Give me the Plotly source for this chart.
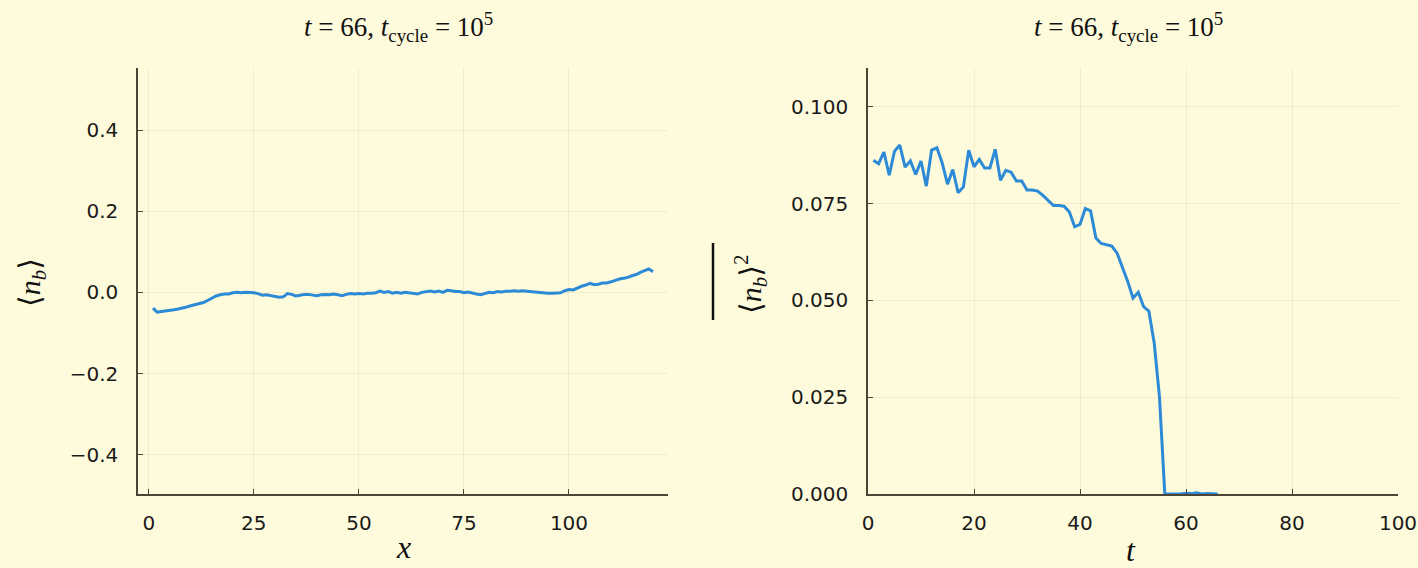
import plotly.graph_objects as go

# ---------------- data ----------------
x_left = list(range(1, 121))
nb_left = [
    -0.039, -0.049, -0.047, -0.046, -0.045, -0.043, -0.041, -0.039, -0.036, -0.033,
    -0.030, -0.028, -0.025, -0.020, -0.014, -0.009, -0.006, -0.004, -0.004, -0.001,
    0.000, -0.001, 0.000, 0.000, -0.001, -0.003, -0.007, -0.006, -0.008, -0.010,
    -0.012, -0.011, -0.003, -0.005, -0.009, -0.007, -0.005, -0.005, -0.006, -0.008,
    -0.006, -0.005, -0.006, -0.004, -0.006, -0.008, -0.005, -0.003, -0.004, -0.003,
    -0.004, -0.002, -0.002, -0.001, 0.003, 0.000, 0.002, -0.002, 0.000, -0.002,
    0.000, -0.001, -0.002, -0.004, 0.000, 0.002, 0.003, 0.001, 0.003, 0.000,
    0.005, 0.004, 0.002, 0.002, -0.001, 0.001, -0.002, -0.004, -0.006, -0.003,
    0.000, -0.001, 0.002, 0.001, 0.003, 0.003, 0.004, 0.003, 0.004, 0.003,
    0.002, 0.001, -0.001, -0.001, -0.002, -0.002, -0.002, -0.001, 0.004, 0.007,
    0.006, 0.011, 0.015, 0.018, 0.022, 0.019, 0.020, 0.023, 0.023, 0.026,
    0.030, 0.033, 0.035, 0.037, 0.041, 0.044, 0.049, 0.053, 0.058, 0.051,
]

t_right = list(range(1, 67))
nb2_right = [
    0.0862, 0.0853, 0.0883, 0.0823, 0.0885, 0.0901, 0.0844, 0.0860, 0.0825, 0.0860,
    0.0795, 0.0888, 0.0894, 0.0855, 0.0800, 0.0838, 0.0778, 0.0793, 0.0888, 0.0845,
    0.0864, 0.0842, 0.0842, 0.0890, 0.0810, 0.0836, 0.0831, 0.0808, 0.0808, 0.0785,
    0.0785, 0.0782, 0.0771, 0.0759, 0.0745, 0.0745, 0.0743, 0.0728, 0.0690, 0.0696,
    0.0737, 0.0731, 0.0661, 0.0647, 0.0644, 0.0640, 0.0622, 0.0588, 0.0549, 0.0506,
    0.0521, 0.0484, 0.0472, 0.0390, 0.0250, 0.0000, 0.0000, 0.0001, 0.0000, 0.0002,
    0.0001, 0.0003, 0.0000, 0.0001, 0.0000, 0.0000,
]

left_xticks = [0, 25, 50, 75, 100]
left_yticks = [-0.4, -0.2, 0.0, 0.2, 0.4]
right_xticks = [0, 20, 40, 60, 80, 100]
right_yticks = [0.0, 0.025, 0.05, 0.075, 0.1]

title_text = "<i>t</i> = 66, <i>t</i><sub>cycle</sub> = 10<sup>5</sup>"

# ---------------- styling ----------------
W, H = 1418, 568
BG = "#FEFBDC"
LINE = "#2D8AD6"
AXC = "#4a4535"
GRID = "rgba(225,190,140,0.25)"
TICKFONT = dict(family="DejaVu Sans", size=20, color="#1a1a1a")
SERIF = "Liberation Serif, DejaVu Serif, serif"

def px_x(p):
    return p / W

def px_y(p):
    return 1 - p / H

fig = go.Figure()
fig.add_trace(go.Scatter(x=x_left, y=nb_left, mode="lines",
                         line=dict(color=LINE, width=3), xaxis="x", yaxis="y",
                         showlegend=False))
fig.add_trace(go.Scatter(x=t_right, y=nb2_right, mode="lines",
                         line=dict(color=LINE, width=3), xaxis="x2", yaxis="y2",
                         showlegend=False))

axis_common = dict(
    showline=True, linecolor=AXC, linewidth=1.5, mirror=False,
    ticks="inside", ticklen=5, tickcolor=AXC, tickwidth=1,
    showgrid=True, gridcolor=GRID, gridwidth=1, zeroline=False,
    tickfont=TICKFONT, automargin=False,
)

ydom = [px_y(494), px_y(68)]
fig.update_layout(
    template="none",
    width=W, height=H, autosize=False,
    margin=dict(l=0, r=0, t=0, b=0, pad=0),
    paper_bgcolor=BG, plot_bgcolor=BG,
    xaxis=dict(domain=[px_x(138), px_x(668)], range=[-2.57, 123.57],
               tickvals=left_xticks, ticklabelstandoff=10, anchor="y", **axis_common),
    yaxis=dict(domain=ydom, range=[-0.497, 0.553], tickvals=left_yticks,
               tickformat=".1f", ticklabelstandoff=14, anchor="x", **axis_common),
    xaxis2=dict(domain=[px_x(868), px_x(1398)], range=[0, 100],
                tickvals=right_xticks, ticklabelstandoff=10, anchor="y2", **axis_common),
    yaxis2=dict(domain=ydom, range=[0, 0.11], tickvals=right_yticks,
                tickformat=".3f", ticklabelstandoff=14, anchor="x2", **axis_common),
)

ann = []
# titles
for cx in (398, 1128):
    ann.append(dict(x=px_x(cx), y=px_y(27), xref="paper", yref="paper",
                    text=title_text, showarrow=False,
                    font=dict(family=SERIF, size=27, color="#111111"),
                    xanchor="center", yanchor="middle"))
# x-axis titles
ann.append(dict(x=px_x(403), y=px_y(547), xref="paper", yref="paper",
                text="<i>x</i>", showarrow=False,
                font=dict(family=SERIF, size=32, color="#111111"),
                xanchor="center", yanchor="middle"))
ann.append(dict(x=px_x(1131), y=px_y(550), xref="paper", yref="paper",
                text="<i>t</i>", showarrow=False,
                font=dict(family=SERIF, size=32, color="#111111"),
                xanchor="center", yanchor="middle"))
# y-axis titles
ann.append(dict(x=px_x(32), y=px_y(283), xref="paper", yref="paper",
                text="⟨<i>n</i><sub><i>b</i></sub>⟩", showarrow=False, textangle=-90,
                font=dict(family=SERIF, size=30, color="#111111"),
                xanchor="center", yanchor="middle"))
ann.append(dict(x=px_x(750), y=px_y(284), xref="paper", yref="paper",
                text="⟨<i>n</i><sub><i>b</i></sub>⟩<sup>2</sup>", showarrow=False, textangle=-90,
                font=dict(family=SERIF, size=30, color="#111111"),
                xanchor="center", yanchor="middle"))
fig.update_layout(annotations=ann)

# overline of the mean-square label
fig.add_shape(type="line", xref="paper", yref="paper",
              x0=px_x(713), x1=px_x(713), y0=px_y(243), y1=px_y(320),
              line=dict(color="#111111", width=2.5))

post = (
    "var s=document.createElement('style');"
    "s.innerHTML='html,body{margin:0;padding:0;overflow:hidden;background:%s;}';"
    "document.head.appendChild(s);" % BG
)
fig.write_html("out.html", config={"displayModeBar": False}, post_script=post)
